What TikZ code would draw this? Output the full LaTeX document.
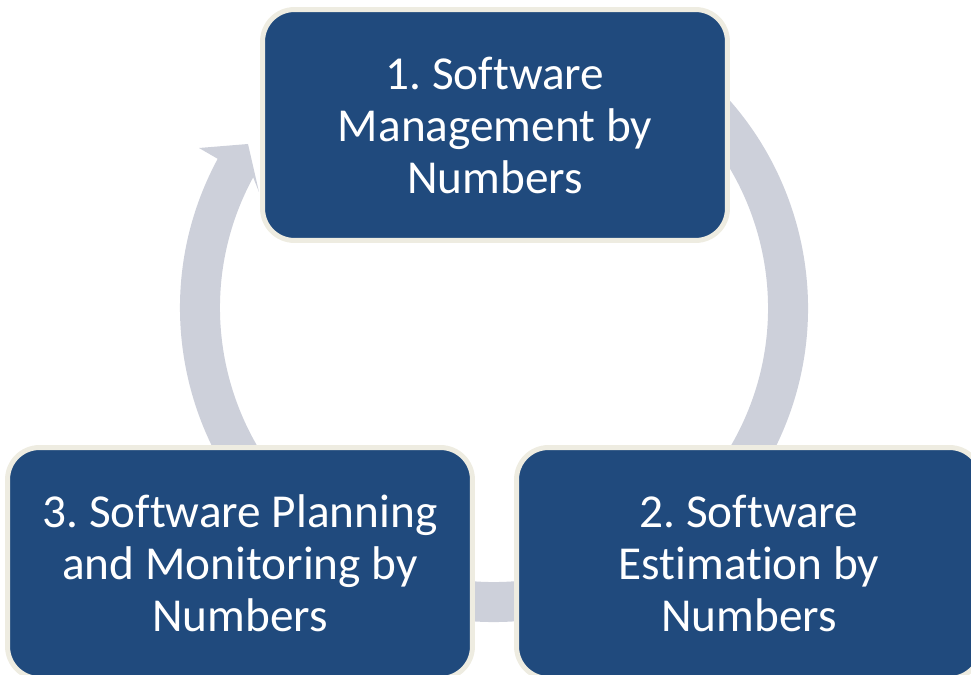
\documentclass[tikz,border=0pt]{standalone}
\usepackage{fontspec}
\setmainfont{Carlito}[Ligatures=NoCommon]
\frenchspacing
\definecolor{boxblue}{HTML}{204A7D}
\definecolor{boxrim}{HTML}{EEECE1}
\definecolor{ringgray}{HTML}{CDD0DA}

\begin{document}
\begin{tikzpicture}[x=0.02cm, y=0.02cm,
    stage/.style={rectangle, rounded corners=0.64cm, draw=boxrim, line width=0.1cm, fill=boxblue,
        text=white, minimum width=9.3cm, minimum height=4.62cm, inner sep=0pt, align=center,
        font=\fontsize{26.9}{29.6}\selectfont}]

    \useasboundingbox (0,0) rectangle (971,674);

    % Cycle arrow, drawn first so the boxes sit on it
    \coordinate (c) at (494,366);
    \draw[ringgray, line width=0.8cm] (c) ++(60:294) arc[start angle=60, end angle=-209, radius=294];
    \fill[ringgray] (218,515) -- (199,526) -- (248,530) -- (259,482) -- (253,497) -- cycle;

    % Top box
    \node[stage] (mgmt) at (495,549) {1. Software\\Management by\\Numbers};

    % Bottom row
    \node[stage] (plan) at (240,111) {3. Software Planning\\and Monitoring by\\Numbers};
    \node[stage] (estim) at (749,111) {2. Software\\Estimation by\\Numbers};

\end{tikzpicture}
\end{document}
